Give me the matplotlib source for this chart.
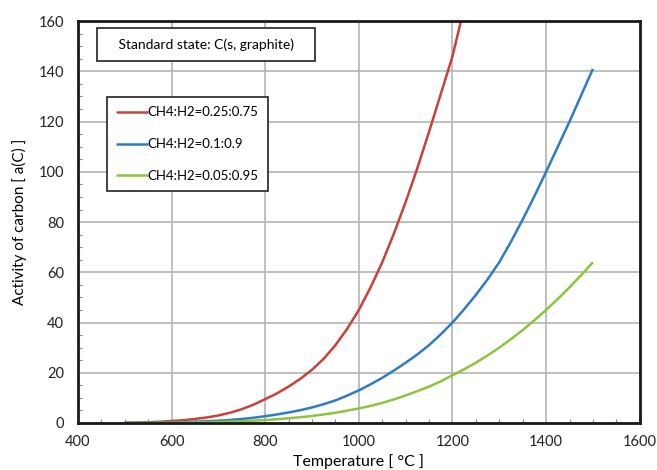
import matplotlib
matplotlib.use("Agg")
import matplotlib.pyplot as plt
from matplotlib.ticker import MultipleLocator

plt.rcParams['font.family'] = ['Lato', 'DejaVu Sans']

# temperatures [C] and carbon activity
t_red = [500, 525, 550, 575, 600, 625, 650, 675, 700, 725, 750, 775, 800, 825, 850, 875,
         900, 925, 950, 975, 1000, 1025, 1050, 1075, 1100, 1125, 1150, 1175, 1200, 1218]
a_red = [0.1, 0.2, 0.3, 0.5, 0.8, 1.1, 1.6, 2.2, 3.0, 4.1, 5.5, 7.3, 9.5, 11.8, 14.5, 17.6,
         21.2, 25.6, 31, 37.5, 45, 54, 64, 75.5, 88, 101.5, 116, 131, 146, 160]

t_blue = [500, 550, 600, 650, 700, 725, 750, 775, 800, 825, 850, 875, 900, 925, 950, 975,
          1000, 1025, 1050, 1075, 1100, 1125, 1150, 1175, 1200, 1225, 1250, 1275, 1300,
          1325, 1350, 1375, 1400, 1425, 1450, 1475, 1500]
a_blue = [0.03, 0.1, 0.25, 0.5, 0.9, 1.2, 1.6, 2.1, 2.7, 3.4, 4.2, 5.1, 6.2, 7.5, 9, 10.9,
          13, 15.4, 18, 20.9, 24, 27.3, 31, 35.3, 40, 45.3, 51, 57.2, 64,
          72.2, 81, 90.3, 100, 110, 120, 130.5, 141]

t_green = [500, 550, 600, 650, 700, 750, 800, 825, 850, 875, 900, 925, 950, 975,
           1000, 1025, 1050, 1075, 1100, 1125, 1150, 1175, 1200, 1225, 1250, 1275, 1300,
           1325, 1350, 1375, 1400, 1425, 1450, 1475, 1500]
a_green = [0.01, 0.04, 0.1, 0.2, 0.4, 0.7, 1.2, 1.5, 1.9, 2.3, 2.8, 3.4, 4.1, 4.9,
           5.8, 6.8, 8, 9.4, 11, 12.7, 14.5, 16.6, 19, 21.4, 24, 26.9, 30,
           33.4, 37, 40.9, 45, 49.4, 54, 58.9, 64]

labels = ['CH4:H2=0.25:0.75', 'CH4:H2=0.1:0.9', 'CH4:H2=0.05:0.95']
colors = ['#C8413A', '#2F7BC4', '#8CC43F']

fig = plt.figure(figsize=(6.57, 4.70), dpi=100)
ax = fig.add_axes([0.1187, 0.100, 0.855, 0.855])

for t, a, lab, c in zip([t_red, t_blue, t_green], [a_red, a_blue, a_green], labels, colors):
    ax.plot(t, a, color=c, lw=1.8, label=lab, solid_capstyle='butt')

ax.set_xlim(400, 1600)
ax.set_ylim(0, 160)
ax.xaxis.set_major_locator(MultipleLocator(200))
ax.yaxis.set_major_locator(MultipleLocator(20))
ax.xaxis.set_minor_locator(MultipleLocator(50))
ax.yaxis.set_minor_locator(MultipleLocator(5))
ax.grid(True, which='major', color='#b4b4b4', lw=1.2)
ax.set_axisbelow(True)
ax.tick_params(which='major', length=0, labelsize=10.5, labelcolor='#222222')
ax.tick_params(axis='x', which='major', pad=9)
ax.tick_params(axis='y', which='major', pad=10)
ax.tick_params(which='minor', direction='in', length=3, width=0.8, color='#888888')
for s in ax.spines.values():
    s.set_linewidth(2)
    s.set_color('#1a1a1a')

ax.set_xlabel('Temperature [ °C ]', fontsize=11.5, labelpad=3)
ax.set_ylabel('Activity of carbon [ a(C) ]', fontsize=11, labelpad=8)

# note box: a bit wider than the text
ax.text(0.228, 0.9415, '   Standard state: C(s, graphite)   ', transform=ax.transAxes,
        fontsize=10, va='center', ha='center',
        bbox=dict(boxstyle='square,pad=0.75', fc='white', ec='#333333', lw=1.3))

leg = ax.legend(loc='upper left', bbox_to_anchor=(0.0516, 0.811), fancybox=False,
                edgecolor='#333333', framealpha=1, fontsize=9.5, handlelength=2.4,
                handletextpad=0.0, labelspacing=1.5, borderpad=0.7, borderaxespad=0)
leg.get_frame().set_linewidth(1.3)

fig.savefig('out.png', dpi=100)
